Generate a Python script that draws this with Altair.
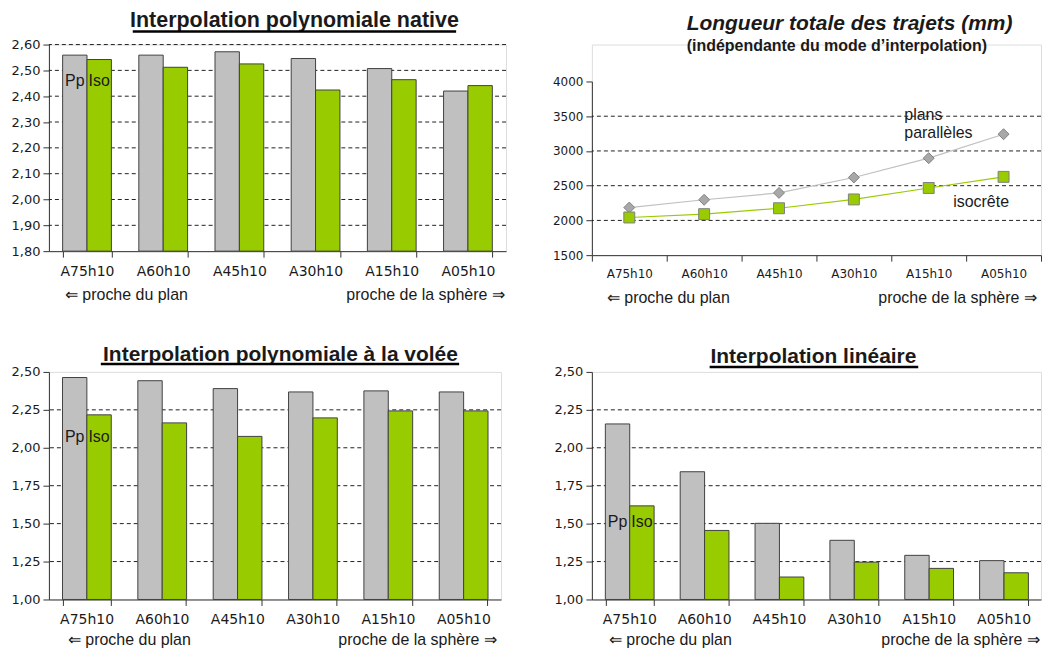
import altair as alt
import pandas as pd

# ---------------- data ----------------
categories = ["A75h10", "A60h10", "A45h10", "A30h10", "A15h10", "A05h10"]
series_names = ["Pp", "Iso"]

native_pp = [2.559, 2.559, 2.572, 2.546, 2.507, 2.420]
native_iso = [2.542, 2.512, 2.525, 2.424, 2.464, 2.441]

volee_pp = [2.463, 2.442, 2.390, 2.368, 2.375, 2.368]
volee_iso = [2.217, 2.164, 2.075, 2.197, 2.243, 2.243]

lineaire_pp = [2.157, 1.842, 1.502, 1.390, 1.291, 1.256]
lineaire_iso = [1.617, 1.455, 1.148, 1.246, 1.205, 1.176]

longueur_pp = [2185, 2297, 2396, 2618, 2896, 3241]
longueur_iso = [2042, 2090, 2175, 2302, 2467, 2627]

native_ticks = [1.80, 1.90, 2.00, 2.10, 2.20, 2.30, 2.40, 2.50, 2.60]
volee_ticks = [1.00, 1.25, 1.50, 1.75, 2.00, 2.25, 2.50]
lineaire_ticks = [1.00, 1.25, 1.50, 1.75, 2.00, 2.25, 2.50]
longueur_ticks = [1500, 2000, 2500, 3000, 3500, 4000]

# ---------------- style ----------------
FONT = "Liberation Sans"
TICKFONT = "DejaVu Sans"
GRAY = "#C0C0C0"
GREEN = "#99CC00"
AXIS_COLOR = "#333333"
TXT = "#1a1a1a"

comma_expr = "replace(format(datum.value, '.2f'), '.', ',')"


def txt(text, x, y, size=16, weight="normal", align="left", style="normal"):
    return alt.Chart(pd.DataFrame({"t": [text]})).mark_text(
        font=FONT, fontSize=size, fontWeight=weight, fontStyle=style,
        align=align, baseline="middle", color=TXT
    ).encode(x=alt.value(x), y=alt.value(y), text="t:N")


def underline(x1, x2, y):
    return alt.Chart(pd.DataFrame({"a": [0]})).mark_rule(
        color="black", strokeWidth=2.5
    ).encode(x=alt.value(x1), x2=alt.value(x2), y=alt.value(y))


def x_axis(size=14):
    return alt.Axis(labelAngle=0, tickBand="extent", tickSize=6, tickColor=AXIS_COLOR,
                    domainColor=AXIS_COLOR, labelFont=TICKFONT, labelFontSize=size,
                    labelColor=TXT, labelPadding=7, grid=False, title=None)


def y_axis(values, size=13, expr=None):
    kw = dict(values=values, grid=False, tickSize=6, tickColor=AXIS_COLOR,
              domainColor=AXIS_COLOR, labelFont=TICKFONT, labelFontSize=size,
              labelColor=TXT, labelPadding=3, title=None)
    if expr:
        kw["labelExpr"] = expr
    else:
        kw["format"] = "d"
    return alt.Axis(**kw)


def bar_panel(title, pp, iso, ticks, label_v, w, h, title_cx, title_cy, title_size, ul, ul_y,
              left_x, right_x, bottom_dy, top_grid):
    ymin, ymax = ticks[0], ticks[-1]
    df = pd.DataFrame({"cat": categories * 2,
                       "series": ["Pp"] * 6 + ["Iso"] * 6,
                       "v": pp + iso})
    yscale = alt.Scale(domain=[ymin, ymax], nice=False, zero=False)
    yax = y_axis(ticks, expr=comma_expr)
    xenc = alt.X("cat:N", sort=categories,
                 scale=alt.Scale(paddingInner=0.36, paddingOuter=0.18), axis=x_axis())
    xoff = alt.XOffset("series:N", sort=series_names,
                       scale=alt.Scale(paddingInner=0, paddingOuter=0))

    grid_vals = ticks[1:] if top_grid else ticks[1:-1]
    grid = alt.Chart(pd.DataFrame({"g": grid_vals})).mark_rule(
        strokeDash=[4, 3], color="#222222", strokeWidth=1
    ).encode(y=alt.Y("g:Q", scale=yscale, axis=yax))

    bars = alt.Chart(df).mark_bar(stroke="#404040", strokeWidth=1).encode(
        x=xenc, xOffset=xoff,
        y=alt.Y("v:Q", scale=yscale, axis=yax),
        y2=alt.Y2Datum(ymin),
        color=alt.Color("series:N", scale=alt.Scale(domain=series_names, range=[GRAY, GREEN]),
                        legend=None),
    )

    lbl = alt.Chart(pd.DataFrame({"cat": [categories[0]] * 2, "series": series_names,
                                  "v": [label_v] * 2})).mark_text(
        font=FONT, fontSize=16, baseline="middle", align="center", color=TXT
    ).encode(x=alt.X("cat:N", sort=categories), xOffset=alt.XOffset("series:N", sort=series_names),
             y=alt.Y("v:Q", scale=yscale, axis=yax), text="series:N")

    layers = [grid, bars, lbl,
              txt(title, title_cx, title_cy, size=title_size, weight="bold", align="center"),
              underline(ul[0], ul[1], ul_y),
              txt("⇐ proche du plan", left_x, h + bottom_dy),
              txt("proche de la sphère ⇒", right_x, h + bottom_dy)]
    return alt.layer(*layers).properties(width=w, height=h)


# ---------- panel 1 : native ----------
p1 = bar_panel("Interpolation polynomiale native", native_pp, native_iso, native_ticks, 2.459,
               w=458, h=207, title_cx=246, title_cy=-24, title_size=21.5, ul=(84, 408), ul_y=-13,
               left_x=16, right_x=298, bottom_dy=44, top_grid=True)

# ---------- panel 3 : à la volée ----------
p3 = bar_panel("Interpolation polynomiale à la volée", volee_pp, volee_iso, volee_ticks, 2.07,
               w=453, h=228, title_cx=232, title_cy=-17, title_size=21, ul=(52, 411), ul_y=-8,
               left_x=19, right_x=290, bottom_dy=41, top_grid=False)

# ---------- panel 4 : linéaire ----------
p4 = bar_panel("Interpolation linéaire", lineaire_pp, lineaire_iso, lineaire_ticks, 1.508,
               w=450, h=228, title_cx=222, title_cy=-15, title_size=21, ul=(118, 327), ul_y=-5,
               left_x=17, right_x=290, bottom_dy=41, top_grid=False)

# ---------- panel 2 : longueur ----------
H2 = 211          # plot area from the panel top down to the 1500 line
TOP2 = 37         # value 4000 drawn 37px below the panel top
df_len = pd.DataFrame({"cat": categories * 2,
                       "series": ["Pp"] * 6 + ["Iso"] * 6,
                       "v": longueur_pp + longueur_iso})
lscale = alt.Scale(domain=[1500, 4000], nice=False, zero=False, range=[H2, TOP2])
lyax = y_axis(longueur_ticks, size=12)
lx = alt.X("cat:N", sort=categories,
           scale=alt.Scale(type="band", paddingInner=0, paddingOuter=0), axis=x_axis(12))
lgrid = alt.Chart(pd.DataFrame({"g": longueur_ticks[1:-1]})).mark_rule(
    strokeDash=[4, 3], color="#222222", strokeWidth=1
).encode(y=alt.Y("g:Q", scale=lscale, axis=lyax))
lbase = alt.Chart(df_len)
llines = lbase.mark_line(strokeWidth=1.2).encode(
    x=lx,
    y=alt.Y("v:Q", scale=lscale, axis=lyax),
    color=alt.Color("series:N", scale=alt.Scale(domain=series_names, range=["#999999", GREEN]),
                    legend=None),
    detail="series:N",
)
lpts = lbase.mark_point(filled=True, size=120, strokeWidth=1, opacity=1).encode(
    x=lx,
    y=alt.Y("v:Q", scale=lscale, axis=lyax),
    shape=alt.Shape("series:N", scale=alt.Scale(domain=series_names, range=["diamond", "square"]),
                    legend=None),
    fill=alt.Fill("series:N", scale=alt.Scale(domain=series_names, range=["#A8A8A8", GREEN]),
                  legend=None),
    stroke=alt.value("#808080"),
)
p2 = alt.layer(
    lgrid, llines, lpts,
    txt("Longueur totale des trajets (mm)", 95, -21, size=21, weight="bold", style="italic"),
    txt("(indépendante du mode d’interpolation)", 95, 1, size=16, weight="bold"),
    txt("plans", 313, 71),
    txt("parallèles", 313, 89),
    txt("isocrête", 362, 158),
    txt("⇐ proche du plan", 15, H2 + 43),
    txt("proche de la sphère ⇒", 287, H2 + 43),
).properties(width=450, height=H2)

top = alt.hconcat(p1, p2, spacing=44)
bottom = alt.hconcat(p3, p4, spacing=51)
chart = alt.vconcat(top, bottom, spacing=36).properties(
    padding={"left": 2, "top": 0, "right": 0, "bottom": 0}
).configure_view(strokeWidth=0).configure(background="white")

chart.save("out.html", embed_options={"renderer": "svg", "actions": False})
